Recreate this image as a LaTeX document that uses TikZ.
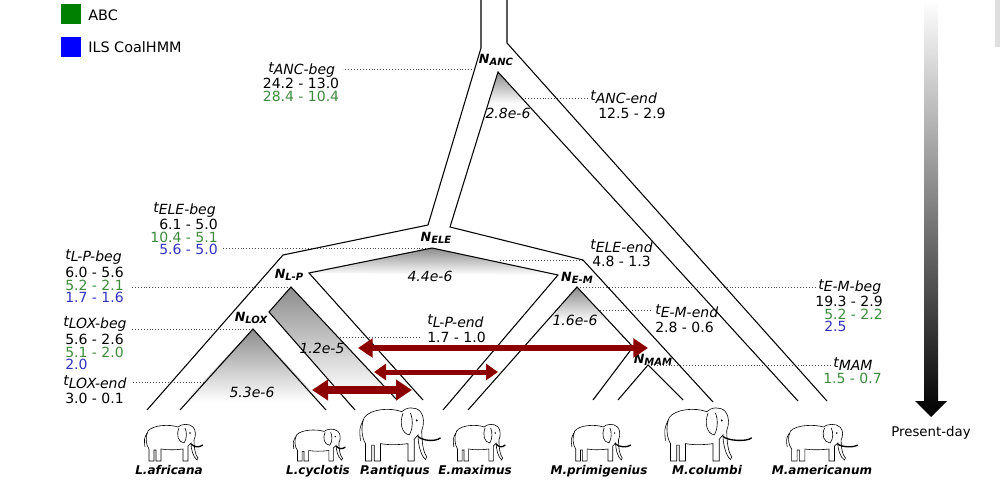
\documentclass[tikz,border=0pt]{standalone}
\usepackage{fontspec}
\setmainfont{DejaVu Sans}
\usepackage{tikz}
\usetikzlibrary{arrows.meta}
\definecolor{abcgreen}{RGB}{0,128,0}
\definecolor{ilsblue}{RGB}{0,0,255}
\definecolor{numgreen}{RGB}{60,140,60}
\definecolor{numblue}{RGB}{50,50,190}
\definecolor{flowred}{RGB}{140,0,0}
\newcommand\tlab[1]{\textit{t\raisebox{-.2em}{#1}}}
\newcommand\nlab[1]{\textbf{\textit{\fontsize{9.5}{10}\selectfont N\raisebox{-.2em}{\fontsize{7.5}{8}\selectfont #1}}}}
\newcommand\elephant[5]{%
  \begin{scope}[shift={(#1,#2)},xscale=#3,yscale=-#4,line width=.45pt]
    \draw[fill=white] (6,0) -- (6,12) .. controls (3,16) and (2,24) .. (5,30)
      .. controls (10,36) and (26,37) .. (35,34)
      .. controls (38,37) and (46,38) .. (50,34)
      .. controls (53,31) and (53,25) .. (51,21)
      .. controls (51,14) and (52,6) .. (55,3) -- (54,1)
      .. controls (50,4) and (48,12) .. (48,18)
      .. controls (47,16) .. (45,15) -- (45,0) -- (40,0) -- (40,12)
      .. controls (32,11) and (24,11) .. (18,12) -- (18,0) -- (13,0)
      -- (13,11) -- (11,11) -- (11,0) -- cycle;
    \draw (36,33) .. controls (33,26) and (35,19) .. (41,18)
      .. controls (44,22) and (44,29) .. (42,33);
    \draw (4,28) .. controls (1,22) .. (2,14);
    \draw[line width=1pt] (48,17) .. controls (51,14) and (#5-4,13) .. (#5,16);
    \fill (47,28) circle (.8);
  \end{scope}}
\tikzset{
  wall/.style={line width=.8pt},
  guide/.style={line width=.5pt,gray!60!black,dash pattern=on .6pt off 1.6pt},
  cone/.style={top color=black!45,bottom color=white},
  gene/.style={inner sep=0pt,align=left,font={\fontsize{10.5}{9.5}\selectfont\lineskiplimit=-20pt}},
  tname/.style={inner sep=0pt,anchor=west,font=\fontsize{10.5}{11}\selectfont},
  rate/.style={inner sep=0pt,font=\fontsize{10.5}{11}\selectfont\itshape},
  nname/.style={inner sep=0pt},
  species/.style={inner sep=0pt,anchor=base,font=\fontsize{9}{10}\selectfont\bfseries\itshape},
  legend/.style={inner sep=0pt,anchor=west,font=\fontsize{10.8}{11}\selectfont},
  flow/.style={draw=flowred,<->},
  bighead/.style={>/.tip={Triangle[length=11pt,width=14pt]}},
  midhead/.style={>/.tip={Triangle[length=9pt,width=12pt]}},
  fathead/.style={>/.tip={Triangle[length=12pt,width=15pt]}}
}
\begin{document}
\begin{tikzpicture}[x=.75pt,y=-.75pt]
  \useasboundingbox (0,0) rectangle (1000,481);
  % legend
  \fill[abcgreen] (61,4) rectangle (81,24);
  \fill[ilsblue] (61,37) rectangle (81,57);
  \node[legend] (abc) at (88,15) {ABC};
  \node[legend] (ils) at (88,47) {ILS CoalHMM};
  % time axis
  \shade[top color=white,middle color=black!50,bottom color=black] (924,0) -- (938,0) -- (938,401)
    -- (947,401) -- (931,417) -- (915,401) -- (924,401) -- cycle;
  \fill[gray!25] (995,0) rectangle (1000,47);
  \node[font=\fontsize{10}{11}\selectfont] (today) at (931,433) {Present-day};
  % tree points
  \coordinate (topL) at (481,0);
  \coordinate (topR) at (507,0);
  \coordinate (ancL) at (481,48);
  \coordinate (ancR) at (507,43);
  \coordinate (ancA) at (498,72);
  \coordinate (eleL) at (428,225);
  \coordinate (eleR) at (450,227);
  \coordinate (eleA) at (432,248);
  \coordinate (lpL) at (283,255);
  \coordinate (lpR) at (309,273);
  \coordinate (lpA) at (291,287);
  \coordinate (loxR) at (269,312);
  \coordinate (loxA) at (253,329);
  \coordinate (emR) at (583,260);
  \coordinate (emL) at (558,275);
  \coordinate (emA) at (577,287);
  \coordinate (mamL) at (633,347);
  \coordinate (mamA) at (648,365);
  \coordinate (afr1) at (147,410); \coordinate (afr2) at (180,410);
  \coordinate (cyc1) at (326,410); \coordinate (cyc2) at (355,410);
  \coordinate (ant1) at (397,400); \coordinate (ant2) at (423,400);
  \coordinate (max1) at (443,410); \coordinate (max2) at (468,410);
  \coordinate (pri1) at (593,400); \coordinate (pri2) at (618,400);
  \coordinate (col1) at (683,400); \coordinate (col2) at (713,402);
  \coordinate (ame1) at (798,401); \coordinate (ame2) at (827,401);
  % shaded cones
  \shade[cone] (ancA) -- (489,104) -- (527,104) -- cycle;
  \shade[cone] (eleA) -- (lpR) -- (emL) -- cycle;
  \shade[cone] (lpA) -- (loxR) -- (342,395) -- (392,395) -- cycle;
  \shade[cone] (loxA) -- (184,402) -- (322,402) -- cycle;
  \shade[cone] (emA) -- (547,322) -- (608,322) -- cycle;
  % guides
  \coordinate (gAncBeg) at (475,69);
  \coordinate (gAncEnd) at (522,98);
  \coordinate (gLoxEnd) at (204,382);
  \coordinate (gLpEnd) at (340,337);
  \coordinate (gEleEnd) at (500,260);
  \coordinate (gEmEnd) at (600,310);
  \draw[guide] (gAncBeg) -- ++(-132,0);
  \draw[guide] (gAncEnd) -- ++(66,0);
  \draw[guide] (eleA) -- ++(-209,0);
  \draw[guide] (lpA) -- ++(-161,0);
  \draw[guide] (loxA) -- ++(-121,0);
  \draw[guide] (gLoxEnd) -- ++(-71,0);
  \draw[guide] (gLpEnd) -- ++(80,0);
  \draw[guide] (gEleEnd) -- (emR);
  \draw[guide] (emA) -- ++(238,0);
  \draw[guide] (gEmEnd) -- ++(52,0);
  \draw[guide] (mamA) -- ++(182,0);
  % walls
  \draw[wall] (topL) -- (ancL) -- (eleL) -- (lpL) -- (afr1);
  \draw[wall] (topR) -- (ancR) -- (ame2);
  \draw[wall] (ame1) -- (ancA) -- (eleR) -- (emR) -- (col2);
  \draw[wall] (ant2) -- (lpR) -- (eleA) -- (emL) -- (max1);
  \draw[wall] (cyc2) -- (loxR) -- (lpA) -- (ant1);
  \draw[wall] (afr2) -- (loxA) -- (cyc1);
  \draw[wall] (max2) -- (emA) -- (mamL) -- (pri1);
  \draw[wall] (pri2) -- (mamA) -- (col1);
  % population names
  \node[nname] (nAnc) at (496,60) {\nlab{ANC}};
  \node[nname] (nEle) at (436,238) {\nlab{ELE}};
  \node[nname] (nLp) at (289,275) {\nlab{L-P}};
  \node[nname] (nLox) at (251,318) {\nlab{LOX}};
  \node[nname] (nEm) at (577,278) {\nlab{E-M}};
  \node[nname] (nMam) at (653,360) {\nlab{MAM}};
  % rates
  \node[rate] (rAnc) at (508,113) {2.8e-6};
  \node[rate] (rEle) at (430,276) {4.4e-6};
  \node[rate] (rLp) at (322,348) {1.2e-5};
  \node[rate] (rLox) at (252,392) {5.3e-6};
  \node[rate] (rEm) at (575,320) {1.6e-6};
  % times
  \node[tname] (tAncBeg) at (268,70) {\tlab{ANC-beg}};
  \node[gene,anchor=north,align=center] (vAncBeg) at (301,78) {24.2 - 13.0\\\color{numgreen}28.4 - 10.4};
  \node[tname] (tAncEnd) at (590,97) {\tlab{ANC-end}};
  \node[gene,anchor=north west] (vAncEnd) at (598,108) {12.5 - 2.9};
  \node[tname] (tEleBeg) at (153,210) {\tlab{ELE-beg}};
  \node[gene,anchor=north east,align=right] (vEleBeg) at (218,219) {6.1 - 5.0\\\color{numgreen}10.4 - 5.1\\\color{numblue}5.6 - 5.0};
  \node[tname] (tLpBeg) at (65,257) {\tlab{L-P-beg}};
  \node[gene,anchor=north west] (vLpBeg) at (65,267) {6.0 - 5.6\\\color{numgreen}5.2 - 2.1\\\color{numblue}1.7 - 1.6};
  \node[tname] (tLoxBeg) at (63,324) {\tlab{LOX-beg}};
  \node[gene,anchor=north west] (vLoxBeg) at (65,334) {5.6 - 2.6\\\color{numgreen}5.1 - 2.0\\\color{numblue}2.0};
  \node[tname] (tLoxEnd) at (63,382) {\tlab{LOX-end}};
  \node[gene,anchor=north west] (vLoxEnd) at (65,393) {3.0 - 0.1};
  \node[tname] (tLpEnd) at (427,321) {\tlab{L-P-end}};
  \node[gene,anchor=north west] (vLpEnd) at (427,332) {1.7 - 1.0};
  \node[tname] (tEleEnd) at (590,246) {\tlab{ELE-end}};
  \node[gene,anchor=north west] (vEleEnd) at (592,256) {4.8 - 1.3};
  \node[tname] (tEmBeg) at (818,287) {\tlab{E-M-beg}};
  \node[gene,anchor=north east,align=right] (vEmBeg) at (883,296) {19.3 - 2.9\\\color{numgreen}5.2 - 2.2\\\color{numblue}2.5\phantom{ - 2.2}};
  \node[tname] (tEmEnd) at (655,311) {\tlab{E-M-end}};
  \node[gene,anchor=north west] (vEmEnd) at (655,322) {2.8 - 0.6};
  \node[tname] (tMam) at (833,364) {\tlab{MAM}};
  \node[gene,anchor=north west,numgreen] (vMam) at (823,373) {1.5 - 0.7};
  % gene flow
  \coordinate (f1a) at (358,348); \coordinate (f1b) at (648,348);
  \coordinate (f2a) at (374,372); \coordinate (f2b) at (498,372);
  \coordinate (f3a) at (312,390); \coordinate (f3b) at (412,390);
  \draw[flow,bighead,line width=4.5pt] (f1a) -- (f1b);
  \draw[flow,midhead,line width=3.75pt] (f2a) -- (f2b);
  \draw[flow,fathead,line width=6pt] (f3a) -- (f3b);
  % species
  \elephant{143}{461}{1}{1}{60}
  \elephant{292}{461}{.92}{.87}{58}
  \elephant{358}{461}{1.25}{1.45}{66}
  \elephant{452}{461}{.92}{1}{58}
  \elephant{570}{461}{.95}{1}{64}
  \elephant{663}{461}{1.25}{1.45}{71}
  \elephant{785}{461}{1.1}{1}{66}
  \node[species] (sAfr) at (169,474) {L.africana};
  \node[species] (sCyc) at (318,474) {L.cyclotis};
  \node[species] (sAnt) at (395,474) {P.antiquus};
  \node[species] (sMax) at (475,474) {E.maximus};
  \node[species] (sPri) at (599,474) {M.primigenius};
  \node[species] (sCol) at (707,474) {M.columbi};
  \node[species] (sAme) at (822,474) {M.americanum};
\end{tikzpicture}
\end{document}
